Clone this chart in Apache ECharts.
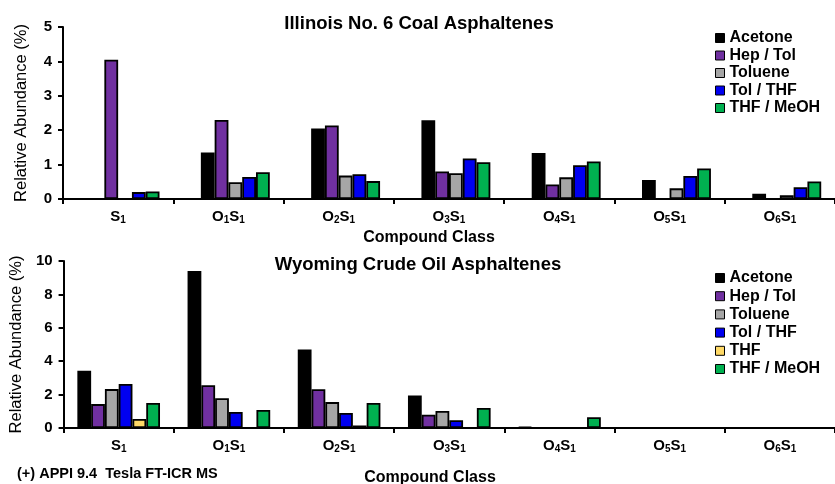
<!DOCTYPE html>
<html>
<head>
<meta charset="utf-8">
<script src="https://cdn.jsdelivr.net/npm/echarts@6/dist/echarts.min.js"></script>
<style>
  html, body { margin: 0; padding: 0; background: #fff; }
  #chart { width: 835px; height: 484px; }
</style>
</head>
<body>
<div id="chart"></div>
<script>
// Compound classes (subscripts rendered with rich text)
const classes = ['S1', 'O1S1', 'O2S1', 'O3S1', 'O4S1', 'O5S1', 'O6S1'];
const classLabels = ['S{s|1}', 'O{s|1}S{s|1}', 'O{s|2}S{s|1}', 'O{s|3}S{s|1}', 'O{s|4}S{s|1}', 'O{s|5}S{s|1}', 'O{s|6}S{s|1}'];

// Illinois No. 6 coal asphaltenes, relative abundance (%)
const coalAcetone = [null, 1.35, 2.05, 2.29, 1.34, 0.55, 0.15];
const coalHepTol  = [4.05, 2.30, 2.14, 0.80, 0.42, null, null];
const coalToluene = [null, 0.49, 0.68, 0.75, 0.63, 0.31, 0.11];
const coalTolTHF  = [0.20, 0.64, 0.72, 1.18, 0.98, 0.67, 0.34];
const coalTHF     = [null, null, null, null, null, null, null];
const coalTHFMeOH = [0.22, 0.78, 0.52, 1.07, 1.09, 0.89, 0.51];

// Wyoming crude oil asphaltenes, relative abundance (%)
const oilAcetone = [3.43, 9.40, 4.70, 1.95, 0.06, null, null];
const oilHepTol  = [1.43, 2.56, 2.32, 0.80, null, null, null];
const oilToluene = [2.33, 1.78, 1.55, 1.02, null, null, null];
const oilTolTHF  = [2.64, 0.96, 0.90, 0.47, null, null, null];
const oilTHF     = [0.54, null, 0.15, null, null, null, null];
const oilTHFMeOH = [1.50, 1.08, 1.50, 1.20, 0.64, null, null];

const coalTicks = { min: 0, max: 5, interval: 1 };
const oilTicks  = { min: 0, max: 10, interval: 2 };

const FONT = 'Liberation Sans, Arial, sans-serif';
const colors = {
  'Acetone': '#000000',
  'Hep / Tol': '#7030A0',
  'Toluene': '#A6A6A6',
  'Tol / THF': '#0000F0',
  'THF': '#FFD966',
  'THF / MeOH': '#00B050'
};

function bar(name, data, idx) {
  return {
    type: 'bar', name: name, data: data,
    xAxisIndex: idx, yAxisIndex: idx,
    barGap: '0%', barCategoryGap: '25%',
    itemStyle: { color: colors[name], borderColor: '#000', borderWidth: 1.8 },
    emphasis: { disabled: true },
    animation: false
  };
}

function xAxis(idx) {
  return {
    type: 'category', gridIndex: idx, data: classes,
    axisLine: { lineStyle: { color: '#000', width: 2 } },
    axisTick: { show: true, interval: 0, length: 5, lineStyle: { color: '#000', width: 2 } },
    axisLabel: {
      interval: 0, margin: 10, color: '#000',
      formatter: (v, i) => classLabels[i],
      rich: {
        s: { fontSize: 10, fontWeight: 'bold', fontFamily: FONT, color: '#000', padding: [6, 0, 0, 0] }
      },
      fontSize: 15, fontWeight: 'bold', fontFamily: FONT
    },
    splitLine: { show: false }
  };
}

function yAxis(idx, t) {
  return {
    type: 'value', gridIndex: idx, min: t.min, max: t.max, interval: t.interval,
    name: 'Relative Abundance (%)', nameLocation: 'middle', nameGap: 33,
    nameTextStyle: { fontSize: 16.5, fontFamily: FONT, color: '#000' },
    axisLine: { show: true, lineStyle: { color: '#000', width: 2 } },
    axisTick: { show: true, length: 5, lineStyle: { color: '#000', width: 2 } },
    axisLabel: { margin: 11, fontSize: 15, fontWeight: 'bold', fontFamily: FONT, color: '#000' },
    splitLine: { show: false }
  };
}

function legend(top, gap, names) {
  return {
    orient: 'vertical', left: 715, top: top, padding: 0,
    data: names, icon: 'rect', itemWidth: 9, itemHeight: 9, itemGap: gap,
    itemStyle: { borderColor: '#000', borderWidth: 1 },
    textStyle: { fontSize: 16, fontWeight: 'bold', fontFamily: FONT, color: '#000' },
    selectedMode: false
  };
}

function label(text, x, y, size, align) {
  return {
    text: text, left: x, top: y, padding: 0, textAlign: align,
    textStyle: { fontSize: size, fontWeight: 'bold', fontFamily: FONT, color: '#000' }
  };
}

const chart = echarts.init(document.getElementById('chart'), null, { renderer: 'canvas' });
chart.setOption({
  animation: false,
  backgroundColor: '#fff',
  title: [
    label('Illinois No. 6 Coal Asphaltenes', 419, 14, 18.5, 'center'),
    label('Wyoming Crude Oil Asphaltenes', 418, 255, 18.5, 'center'),
    label('Compound Class', 429, 230, 16, 'center'),
    label('Compound Class', 430, 470, 16, 'center'),
    label('(+) APPI 9.4  Tesla FT-ICR MS', 17, 466, 14.5, 'left')
  ],
  legend: [
    legend(30, 1.5, ['Acetone', 'Hep / Tol', 'Toluene', 'Tol / THF', 'THF / MeOH']),
    legend(270, 2.2, ['Acetone', 'Hep / Tol', 'Toluene', 'Tol / THF', 'THF', 'THF / MeOH'])
  ],
  grid: [
    { left: 63, right: 0, top: 27, height: 172, containLabel: false },
    { left: 63, right: 0, top: 261, height: 167, containLabel: false }
  ],
  xAxis: [xAxis(0), xAxis(1)],
  yAxis: [yAxis(0, coalTicks), yAxis(1, oilTicks)],
  series: [
    bar('THF', coalTHF, 0),
    bar('Acetone', coalAcetone, 0),
    bar('Hep / Tol', coalHepTol, 0),
    bar('Toluene', coalToluene, 0),
    bar('Tol / THF', coalTolTHF, 0),
    bar('THF / MeOH', coalTHFMeOH, 0),
    bar('Acetone', oilAcetone, 1),
    bar('Hep / Tol', oilHepTol, 1),
    bar('Toluene', oilToluene, 1),
    bar('Tol / THF', oilTolTHF, 1),
    bar('THF', oilTHF, 1),
    bar('THF / MeOH', oilTHFMeOH, 1)
  ]
});
</script>
</body>
</html>
